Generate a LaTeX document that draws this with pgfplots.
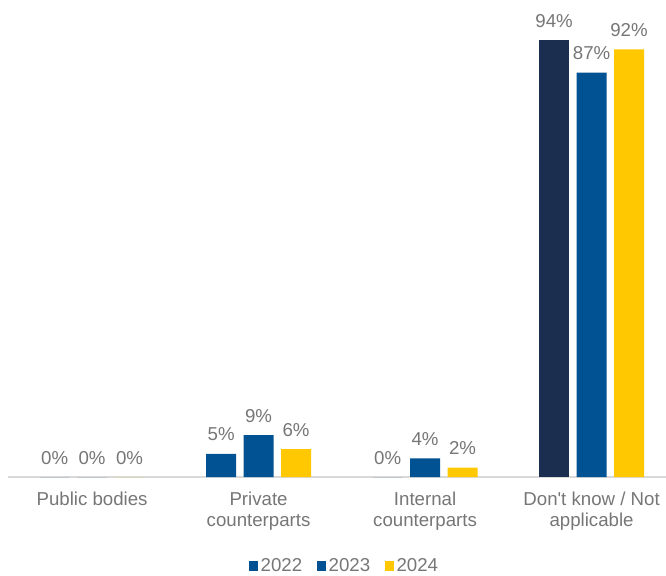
\documentclass[border=0pt]{standalone}
\usepackage{fontspec}
\setmainfont{Liberation Sans}
\usepackage{pgfplots}
\pgfplotsset{compat=1.18}
\definecolor{navy}{RGB}{27,46,80}
\definecolor{ablue}{RGB}{0,82,147}
\definecolor{ayellow}{RGB}{255,200,0}
\definecolor{txt}{RGB}{118,118,118}
\definecolor{axisgray}{RGB}{217,217,217}
\begin{document}
\begin{tikzpicture}
\path[use as bounding box] (0pt,0pt) rectangle (499.5pt,431.25pt);
\begin{axis}[
    at={(6pt,73.5pt)}, anchor=south west,
    scale only axis, width=493.5pt, height=357.75pt,
    ybar, bar width=0.18,
    xmin=-0.505, xmax=3.447, ymin=0, ymax=102.6,
    axis x line*=bottom, axis y line=none,
    x axis line style={axisgray, line width=1.4pt},
    xtick={0,1,2,3},
    xticklabels={{Public bodies},{Private\\counterparts},{Internal\\counterparts},{Don\textquotesingle t know / Not\\applicable}},
    major tick length=0pt,
    xticklabel style={align=center, anchor=north, yshift=-8pt, text=txt,
        font=\fontsize{14}{15.75}\selectfont},
    /pgf/number format/assume math mode=true,
    nodes near coords={\pgfmathprintnumber{\pgfplotspointmeta}\%},
    every node near coord/.append style={text=txt, yshift=6pt, font=\fontsize{14}{15}\selectfont},
    legend style={at={(0.512,-0.1866)}, anchor=center, draw=none, fill=none,
        legend columns=-1, font=\fontsize{14}{15}\selectfont, text=txt,
        /tikz/every even column/.append style={column sep=9pt}},
    legend image code/.code={\fill[#1] (0pt,-3.4pt) rectangle (6.8pt,3.4pt);},
]
\addplot[fill=ablue, draw=none, bar shift=-0.225] coordinates {(0,0) (1,5) (2,0)};
\addlegendentry{2022}
\addplot[fill=ablue, draw=none, bar shift=0] coordinates {(0,0) (1,9) (2,4) (3,87)};
\addlegendentry{2023}
\addplot[fill=ayellow, draw=none, bar shift=0.225] coordinates {(0,0) (1,6) (2,2) (3,92)};
\addlegendentry{2024}
\addplot[fill=navy, draw=none, bar shift=-0.225, forget plot] coordinates {(3,94)};
\end{axis}
\end{tikzpicture}
\end{document}
